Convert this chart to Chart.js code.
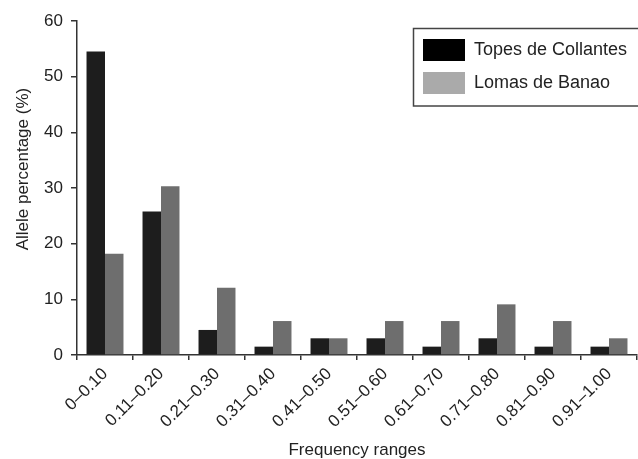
<!DOCTYPE html>
<html>
<head>
<meta charset="utf-8">
<script src="https://cdn.jsdelivr.net/npm/chart.js@4.4.1/dist/chart.umd.min.js"></script>
<style>
  html, body { margin: 0; padding: 0; background: #fff; }
  #wrap { width: 638px; height: 459px; }
</style>
</head>
<body>
<div id="wrap"><canvas id="c" width="638" height="459"></canvas></div>
<script>
const categories = ['0–0.10', '0.11–0.20', '0.21–0.30', '0.31–0.40', '0.41–0.50', '0.51–0.60', '0.61–0.70', '0.71–0.80', '0.81–0.90', '0.91–1.00'];
const seriesNames = ['Topes de Collantes', 'Lomas de Banao'];
const topesValues = [54.5, 25.8, 4.5, 1.5, 3.0, 3.0, 1.5, 3.0, 1.5, 1.5];
const lomasValues = [18.2, 30.3, 12.1, 6.1, 3.0, 6.1, 6.1, 9.1, 6.1, 3.0];
const yTicks = [0, 10, 20, 30, 40, 50, 60];

const barColors = ['#1d1d1d', '#6e6e6e'];
const legendColors = ['#000000', '#aaaaaa'];
const axisColor = '#333333';
const textColor = '#222222';
const FONT = "'Liberation Sans', Arial, Helvetica, sans-serif";

const legendPlace = {
  id: 'legendPlace',
  afterLayout(chart) {
    const l = chart.legend;
    if (!l) return;
    const w = l.width;
    l.left = 412; l.right = l.left + w;
    l.top = 28; l.bottom = 28 + 78; l.height = 78;
  },
  afterDraw(chart) {
    const ctx = chart.ctx;
    ctx.save();
    ctx.strokeStyle = '#444';
    ctx.lineWidth = 1.5;
    ctx.strokeRect(413.5, 28.5, 240, 77.5);
    ctx.restore();
  }
};

new Chart(document.getElementById('c'), {
  type: 'bar',
  data: {
    labels: categories,
    datasets: [
      { label: seriesNames[0], data: topesValues, backgroundColor: barColors[0], borderWidth: 0 },
      { label: seriesNames[1], data: lomasValues, backgroundColor: barColors[1], borderWidth: 0 }
    ]
  },
  options: {
    responsive: false,
    animation: false,
    devicePixelRatio: 1,
    layout: { padding: { left: 0, right: 1, top: 21, bottom: 0 } },
    datasets: { bar: { categoryPercentage: 0.66, barPercentage: 1.0 } },
    plugins: {
      tooltip: { enabled: false },
      legend: {
        position: 'chartArea',
        align: 'start',
        labels: {
          boxWidth: 42,
          boxHeight: 22,
          padding: 11,
          color: textColor,
          font: { family: FONT, size: 18 },
          generateLabels: (chart) => chart.data.datasets.map((ds, i) => ({
            text: ds.label,
            fillStyle: legendColors[i],
            strokeStyle: legendColors[i],
            lineWidth: 0,
            hidden: false,
            datasetIndex: i,
            fontColor: textColor
          }))
        }
      }
    },
    scales: {
      x: {
        offset: true,
        grid: { offset: true, drawOnChartArea: false, drawTicks: true, tickLength: 5, color: axisColor, lineWidth: 1.5 },
        border: { display: true, color: axisColor, width: 1.5 },
        ticks: { autoSkip: false, minRotation: 45, maxRotation: 45, padding: 4, color: textColor, font: { family: FONT, size: 17 } },
        title: { display: true, text: 'Frequency ranges', color: textColor, font: { family: FONT, size: 17, lineHeight: 1.0 }, padding: { top: 0, bottom: 0 } },
        afterFit(scale) { scale.height = 104; }
      },
      y: {
        min: 0, max: 60,
        afterBuildTicks(scale) { scale.ticks = yTicks.map(v => ({ value: v })); },
        grid: { drawOnChartArea: false, drawTicks: true, tickLength: 6, color: axisColor, lineWidth: 1.5 },
        border: { display: true, color: axisColor, width: 1.5 },
        ticks: { padding: 8, color: textColor, font: { family: FONT, size: 17 } },
        title: { display: true, text: '        Allele percentage (%)', color: textColor, font: { family: FONT, size: 17 }, padding: { top: 13, bottom: 0 } },
        afterFit(scale) { scale.width = 77; }
      }
    }
  },
  plugins: [legendPlace]
});
</script>
</body>
</html>
